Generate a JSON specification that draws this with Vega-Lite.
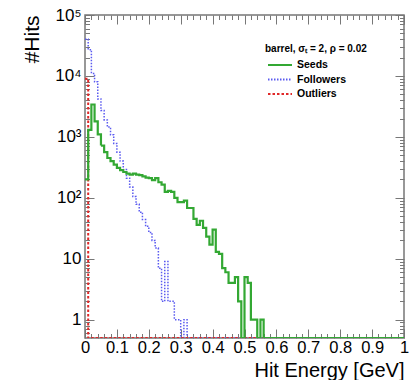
{
  "$schema": "https://vega.github.io/schema/vega-lite/v6.json",
  "width": 319,
  "height": 323,
  "autosize": {"type": "none"},
  "padding": {"left": 85, "top": 15, "right": 5, "bottom": 42},
  "background": "white",
  "config": {
    "view": {"stroke": "#777", "strokeWidth": 1.5},
    "font": "Liberation Sans",
    "axis": {
      "labelFont": "Liberation Sans", "labelFontSize": 17, "labelColor": "#000",
      "titleFont": "Liberation Sans", "titleFontSize": 21, "titleFontWeight": "normal", "titleColor": "#000",
      "tickColor": "#777", "tickWidth": 1, "domain": false, "grid": false,
      "labelOverlap": false, "labelFlush": false, "labelBound": false
    },
    "legend": {"padding": 0}
  },
  "data": {"values": [
    {"series": "Followers", "e": 0, "n": 40000},
    {"series": "Followers", "e": 0.01, "n": 27000},
    {"series": "Followers", "e": 0.02, "n": 11000},
    {"series": "Followers", "e": 0.03, "n": 8000},
    {"series": "Followers", "e": 0.04, "n": 4200},
    {"series": "Followers", "e": 0.05, "n": 2700},
    {"series": "Followers", "e": 0.06, "n": 1900},
    {"series": "Followers", "e": 0.07, "n": 1450},
    {"series": "Followers", "e": 0.08, "n": 1080},
    {"series": "Followers", "e": 0.09, "n": 780},
    {"series": "Followers", "e": 0.1, "n": 560},
    {"series": "Followers", "e": 0.11, "n": 400},
    {"series": "Followers", "e": 0.12, "n": 290},
    {"series": "Followers", "e": 0.13, "n": 210},
    {"series": "Followers", "e": 0.14, "n": 150},
    {"series": "Followers", "e": 0.15, "n": 105},
    {"series": "Followers", "e": 0.16, "n": 78},
    {"series": "Followers", "e": 0.17, "n": 58},
    {"series": "Followers", "e": 0.18, "n": 44},
    {"series": "Followers", "e": 0.19, "n": 34},
    {"series": "Followers", "e": 0.2, "n": 27},
    {"series": "Followers", "e": 0.21, "n": 20},
    {"series": "Followers", "e": 0.22, "n": 15},
    {"series": "Followers", "e": 0.23, "n": 7},
    {"series": "Followers", "e": 0.24, "n": 2},
    {"series": "Followers", "e": 0.25, "n": 9},
    {"series": "Followers", "e": 0.26, "n": 2},
    {"series": "Followers", "e": 0.27, "n": 2},
    {"series": "Followers", "e": 0.28, "n": 1},
    {"series": "Followers", "e": 0.29, "n": 1},
    {"series": "Followers", "e": 0.3, "n": 0},
    {"series": "Followers", "e": 0.31, "n": 1},
    {"series": "Followers", "e": 0.32, "n": 0},
    {"series": "Followers", "e": 1, "n": 0},
    {"series": "Outliers", "e": 0, "n": 9000},
    {"series": "Outliers", "e": 0.01, "n": 0},
    {"series": "Outliers", "e": 1, "n": 0},
    {"series": "Seeds", "e": 0, "n": 200},
    {"series": "Seeds", "e": 0.01, "n": 1300},
    {"series": "Seeds", "e": 0.02, "n": 3400},
    {"series": "Seeds", "e": 0.03, "n": 1800},
    {"series": "Seeds", "e": 0.04, "n": 1100},
    {"series": "Seeds", "e": 0.05, "n": 720},
    {"series": "Seeds", "e": 0.06, "n": 560},
    {"series": "Seeds", "e": 0.07, "n": 450},
    {"series": "Seeds", "e": 0.08, "n": 400},
    {"series": "Seeds", "e": 0.09, "n": 350},
    {"series": "Seeds", "e": 0.1, "n": 310},
    {"series": "Seeds", "e": 0.11, "n": 285},
    {"series": "Seeds", "e": 0.12, "n": 265},
    {"series": "Seeds", "e": 0.13, "n": 250},
    {"series": "Seeds", "e": 0.14, "n": 240},
    {"series": "Seeds", "e": 0.15, "n": 250},
    {"series": "Seeds", "e": 0.16, "n": 240},
    {"series": "Seeds", "e": 0.17, "n": 235},
    {"series": "Seeds", "e": 0.18, "n": 225},
    {"series": "Seeds", "e": 0.19, "n": 215},
    {"series": "Seeds", "e": 0.2, "n": 210},
    {"series": "Seeds", "e": 0.21, "n": 195},
    {"series": "Seeds", "e": 0.22, "n": 210},
    {"series": "Seeds", "e": 0.23, "n": 180},
    {"series": "Seeds", "e": 0.24, "n": 165},
    {"series": "Seeds", "e": 0.25, "n": 125},
    {"series": "Seeds", "e": 0.26, "n": 130},
    {"series": "Seeds", "e": 0.27, "n": 125},
    {"series": "Seeds", "e": 0.28, "n": 100},
    {"series": "Seeds", "e": 0.29, "n": 85},
    {"series": "Seeds", "e": 0.3, "n": 85},
    {"series": "Seeds", "e": 0.31, "n": 90},
    {"series": "Seeds", "e": 0.32, "n": 68},
    {"series": "Seeds", "e": 0.33, "n": 68},
    {"series": "Seeds", "e": 0.34, "n": 45},
    {"series": "Seeds", "e": 0.35, "n": 36},
    {"series": "Seeds", "e": 0.36, "n": 42},
    {"series": "Seeds", "e": 0.37, "n": 32},
    {"series": "Seeds", "e": 0.38, "n": 23},
    {"series": "Seeds", "e": 0.39, "n": 17},
    {"series": "Seeds", "e": 0.4, "n": 30},
    {"series": "Seeds", "e": 0.41, "n": 13},
    {"series": "Seeds", "e": 0.42, "n": 12},
    {"series": "Seeds", "e": 0.43, "n": 7},
    {"series": "Seeds", "e": 0.44, "n": 6},
    {"series": "Seeds", "e": 0.45, "n": 4},
    {"series": "Seeds", "e": 0.46, "n": 4},
    {"series": "Seeds", "e": 0.47, "n": 5},
    {"series": "Seeds", "e": 0.48, "n": 2},
    {"series": "Seeds", "e": 0.49, "n": 0},
    {"series": "Seeds", "e": 0.5, "n": 5},
    {"series": "Seeds", "e": 0.51, "n": 4},
    {"series": "Seeds", "e": 0.52, "n": 1},
    {"series": "Seeds", "e": 0.53, "n": 1},
    {"series": "Seeds", "e": 0.54, "n": 0},
    {"series": "Seeds", "e": 0.55, "n": 1},
    {"series": "Seeds", "e": 0.56, "n": 0},
    {"series": "Seeds", "e": 1, "n": 0}
  ]},
  "encoding": {
    "color": {
      "field": "series", "type": "nominal",
      "scale": {"domain": ["Seeds", "Followers", "Outliers"], "range": ["#33a833", "#5a5af0", "#e02828"]},
      "legend": {
        "title": "barrel, σₜ = 2, ρ = 0.02", "orient": "none", "legendX": 180, "legendY": 29,
        "titleFont": "Liberation Sans", "titleFontSize": 10, "titleFontWeight": "bold", "titleColor": "#000", "titlePadding": 4,
        "labelFont": "Liberation Sans", "labelFontSize": 10.5, "labelFontWeight": "bold", "labelColor": "#000",
        "symbolType": "M-2,0H2", "symbolSize": 144, "symbolStrokeWidth": 2, "symbolOffset": 8, "labelOffset": 10, "rowPadding": 1.5
      }
    },
    "strokeDash": {
      "field": "series", "type": "nominal",
      "scale": {"domain": ["Seeds", "Followers", "Outliers"], "range": [[1, 0], [1.5, 1.5], [2.5, 2]]},
      "legend": {
        "title": "barrel, σₜ = 2, ρ = 0.02", "orient": "none", "legendX": 180, "legendY": 29,
        "titleFont": "Liberation Sans", "titleFontSize": 10, "titleFontWeight": "bold", "titleColor": "#000", "titlePadding": 4,
        "labelFont": "Liberation Sans", "labelFontSize": 10.5, "labelFontWeight": "bold", "labelColor": "#000",
        "symbolType": "M-2,0H2", "symbolSize": 144, "symbolStrokeWidth": 2, "symbolOffset": 8, "labelOffset": 10, "rowPadding": 1.5
      }
    }
  },
  "resolve": {"axis": {"x": "independent", "y": "independent"}},
  "layer": [
    {
      "transform": [{"filter": "datum.series == 'Followers'"}],
      "mark": {"type": "line", "interpolate": "step-after", "clip": true, "strokeWidth": 1.5, "invalid": "show"},
      "encoding": {
        "x": {"field": "e", "type": "quantitative", "scale": {"domain": [0, 1], "nice": false, "zero": false},
          "axis": {"orient": "bottom",
            "values": [0,0.02,0.04,0.06,0.08,0.1,0.12,0.14,0.16,0.18,0.2,0.22,0.24,0.26,0.28,0.3,0.32,0.34,0.36,0.38,0.4,0.42,0.44,0.46,0.48,0.5,0.52,0.54,0.56,0.58,0.6,0.62,0.64,0.66,0.68,0.7,0.72,0.74,0.76,0.78,0.8,0.82,0.84,0.86,0.88,0.9,0.92,0.94,0.96,0.98,1],
            "labelExpr": "abs(datum.value*10 - round(datum.value*10)) < 0.001 ? format(datum.value, '~g') : ''",
            "tickSize": {"condition": {"test": "abs(datum.value*10 - round(datum.value*10)) < 0.001", "value": -9}, "value": -4.5},
            "labelFontSize": 16.5, "labelPadding": 10, "title": "Hit Energy [GeV]", "titleFontSize": 20, "titleAnchor": "end", "titlePadding": 0}},
        "y": {"field": "n", "type": "quantitative", "scale": {"type": "log", "domain": [0.5, 100000], "nice": false, "clamp": true},
          "axis": {"orient": "left",
            "values": [0.6,0.7,0.8,0.9,1,2,3,4,5,6,7,8,9,10,20,30,40,50,60,70,80,90,100,200,300,400,500,600,700,800,900,1000,2000,3000,4000,5000,6000,7000,8000,9000,10000,20000,30000,40000,50000,60000,70000,80000,90000,100000],
            "labelExpr": "datum.value == 1 ? '1' : datum.value == 10 ? '10' : datum.value == 100 ? '10²' : datum.value == 1000 ? '10³' : datum.value == 10000 ? '10⁴' : datum.value == 100000 ? '10⁵' : ''",
            "tickSize": {"condition": {"test": "indexof([1,10,100,1000,10000,100000], datum.value) >= 0", "value": -9}, "value": -4.5},
            "labelPadding": 13, "title": "#Hits", "titleAnchor": "end", "titlePadding": 12}}
      }
    },
    {
      "transform": [{"filter": "datum.series == 'Outliers'"}],
      "mark": {"type": "line", "interpolate": "step-after", "clip": true, "strokeWidth": 2, "invalid": "show"},
      "encoding": {
        "x": {"field": "e", "type": "quantitative", "scale": {"domain": [0, 1], "nice": false, "zero": false},
          "axis": {"orient": "top",
            "values": [0,0.02,0.04,0.06,0.08,0.1,0.12,0.14,0.16,0.18,0.2,0.22,0.24,0.26,0.28,0.3,0.32,0.34,0.36,0.38,0.4,0.42,0.44,0.46,0.48,0.5,0.52,0.54,0.56,0.58,0.6,0.62,0.64,0.66,0.68,0.7,0.72,0.74,0.76,0.78,0.8,0.82,0.84,0.86,0.88,0.9,0.92,0.94,0.96,0.98,1],
            "labels": false, "title": null,
            "tickSize": {"condition": {"test": "abs(datum.value*10 - round(datum.value*10)) < 0.001", "value": -9}, "value": -4.5}}},
        "y": {"field": "n", "type": "quantitative", "scale": {"type": "log", "domain": [0.5, 100000], "nice": false, "clamp": true},
          "axis": {"orient": "right",
            "values": [0.6,0.7,0.8,0.9,1,2,3,4,5,6,7,8,9,10,20,30,40,50,60,70,80,90,100,200,300,400,500,600,700,800,900,1000,2000,3000,4000,5000,6000,7000,8000,9000,10000,20000,30000,40000,50000,60000,70000,80000,90000,100000],
            "labels": false, "title": null,
            "tickSize": {"condition": {"test": "indexof([1,10,100,1000,10000,100000], datum.value) >= 0", "value": -9}, "value": -4.5}}}
      }
    },
    {
      "transform": [{"filter": "datum.series == 'Seeds'"}],
      "mark": {"type": "line", "interpolate": "step-after", "clip": true, "strokeWidth": 2.2, "invalid": "show"},
      "encoding": {
        "x": {"field": "e", "type": "quantitative", "scale": {"domain": [0, 1], "nice": false, "zero": false}, "axis": null},
        "y": {"field": "n", "type": "quantitative", "scale": {"type": "log", "domain": [0.5, 100000], "nice": false, "clamp": true}, "axis": null}
      }
    }
  ]
}
